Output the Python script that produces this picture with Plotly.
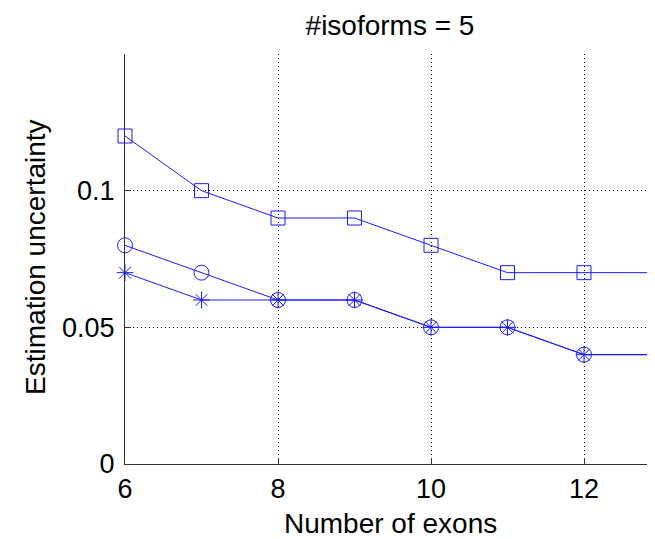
import plotly.graph_objects as go

exons = [6, 7, 8, 9, 10, 11, 12, 13]
unc_square = [0.12, 0.10, 0.09, 0.09, 0.08, 0.07, 0.07, 0.07]
unc_circle = [0.08, 0.07, 0.06, 0.06, 0.05, 0.05, 0.04, 0.04]
unc_star = [0.07, 0.06, 0.06, 0.06, 0.05, 0.05, 0.04, 0.04]
x_ticks = [6, 8, 10, 12]
y_ticks = [0, 0.05, 0.1]
y_tick_labels = ["0", "0.05", "0.1"]

BLUE = "#1a1aff"
FONT = "Liberation Sans, Arial, sans-serif"

# the page body adds an 8px margin, so the figure is 8px smaller
W, H = 647, 531
L, R, T, B = 117, 0, 46, 75
px_per_unit = 76.5
x_max = 6 + (W - L - R) / px_per_unit

fig = go.Figure()

def add(y, symbol, size):
    fig.add_trace(go.Scatter(
        x=exons, y=y, mode="lines+markers",
        line=dict(color=BLUE, width=1),
        marker=dict(symbol=symbol, size=size, color=BLUE,
                    line=dict(color=BLUE, width=1)),
        cliponaxis=False, showlegend=False))

add(unc_square, "square-open", 14)
add(unc_circle, "circle-open", 15)
add(unc_star, "asterisk-open", 14)

fig.update_layout(
    width=W, height=H,
    margin=dict(l=L, r=R, t=T, b=B, pad=0),
    paper_bgcolor="white", plot_bgcolor="white",
    font=dict(family=FONT, color="black", size=27),
    title=dict(text="#isoforms = 5", x=0.5, xref="paper", xanchor="center",
               y=1 - 17 / H, yref="container", yanchor="middle",
               font=dict(size=28, family=FONT, color="black")),
    annotations=[
        dict(text="Number of exons", x=0.5, y=-0.146, xref="paper", yref="paper",
             xanchor="center", yanchor="middle", showarrow=False,
             font=dict(size=28, family=FONT, color="black")),
        dict(text="Estimation uncertainty", x=-0.168, y=0.505, xref="paper", yref="paper",
             xanchor="center", yanchor="middle", textangle=-90, showarrow=False,
             font=dict(size=28, family=FONT, color="black")),
    ],
)

fig.update_xaxes(
    range=[6, x_max], tickvals=x_ticks, ticktext=[str(v) for v in x_ticks],
    showgrid=True, gridcolor="black", gridwidth=1, griddash="1px,3px",
    zeroline=False, showline=True, linecolor="#333333", linewidth=1.3,
    ticks="inside", ticklen=6, tickcolor="#333333",
    tickfont=dict(size=27, family=FONT, color="black"),
)
fig.update_yaxes(
    range=[0, 0.15], tickvals=y_ticks, ticktext=y_tick_labels,
    showgrid=True, gridcolor="black", gridwidth=1, griddash="1px,3px",
    zeroline=False, showline=True, linecolor="#333333", linewidth=1.3,
    ticks="inside", ticklen=6, tickcolor="#333333", ticklabelstandoff=4,
    tickfont=dict(size=27, family=FONT, color="black"),
)

fig.write_html("out.html")
